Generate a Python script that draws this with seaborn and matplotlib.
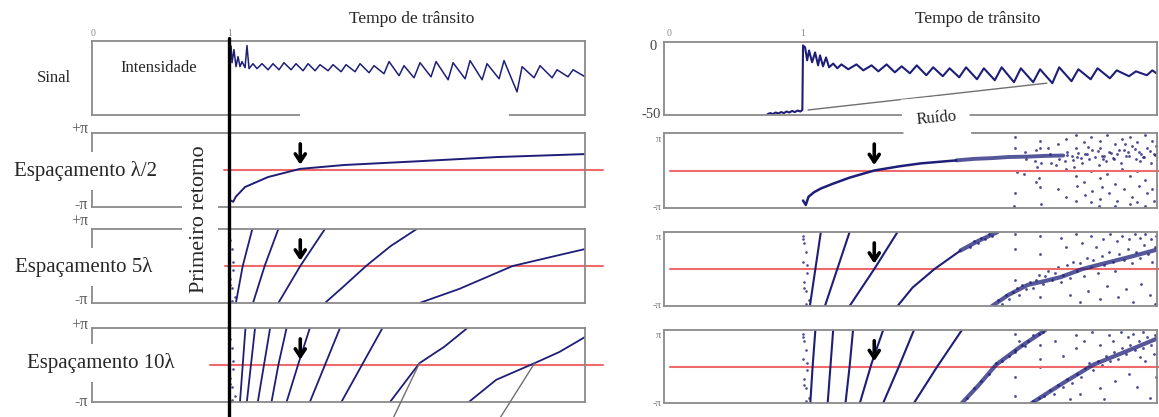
import numpy as np
import pandas as pd
import matplotlib
matplotlib.use("Agg")
import matplotlib.pyplot as plt
import seaborn as sns
from matplotlib.transforms import blended_transform_factory
from matplotlib.lines import Line2D

# ---------------- DATA (time in transit units, intensity in dB, phase in units of pi) -------------
# Left column - signal intensity
sigL_t = [1.000, 1.015, 1.022, 1.036, 1.051, 1.066, 1.080, 1.095, 1.117, 1.131, 1.146, 1.175, 1.204,
          1.241, 1.285, 1.321, 1.365, 1.401, 1.453, 1.489, 1.540, 1.577, 1.628, 1.664, 1.723, 1.759,
          1.818, 1.854, 1.920, 1.956, 2.022, 2.058, 2.131, 2.168, 2.241, 2.277, 2.350, 2.394, 2.474,
          2.511, 2.599, 2.635, 2.723, 2.759, 2.847, 2.883, 2.971, 3.007, 3.102, 3.139, 3.226, 3.270,
          3.358, 3.394, 3.474, 3.511, 3.599]
sigL_db = [1.4, -1.4, -12.9, -3.6, -15.7, -8.6, -15.7, -12.1, -16.4, -0.7, -17.1, -13.6, -17.1,
           -13.6, -17.9, -13.6, -17.9, -12.9, -17.9, -13.6, -18.6, -13.6, -18.6, -14.3, -18.6, -14.3,
           -19.3, -14.3, -19.3, -13.6, -20.0, -15.0, -20.7, -12.1, -22.1, -15.0, -23.6, -12.9, -22.9,
           -12.1, -25.0, -12.9, -24.3, -11.4, -25.0, -13.6, -24.3, -11.4, -33.6, -15.7, -23.6, -15.0,
           -23.6, -17.9, -22.9, -17.9, -22.9]

# Right column - signal intensity (noise floor, then echo train)
sigR_t = [0.74, 0.76, 0.78, 0.80, 0.82, 0.84, 0.86, 0.88, 0.90, 0.92, 0.94, 0.96, 0.98, 0.995,
          1.000, 1.015, 1.030, 1.044, 1.066, 1.088, 1.110, 1.124, 1.146, 1.168, 1.190, 1.220, 1.250,
          1.28, 1.33, 1.39, 1.44, 1.50, 1.55, 1.61, 1.67, 1.72, 1.78, 1.83, 1.90, 1.95, 2.02, 2.07,
          2.14, 2.19, 2.27, 2.32, 2.40, 2.45, 2.54, 2.59, 2.68, 2.73, 2.82, 2.87, 2.96, 3.01, 3.10,
          3.15, 3.24, 3.29, 3.38, 3.43, 3.51, 3.55, 3.58]
sigR_db = [-49.5, -48.6, -49.3, -48.2, -48.9, -47.9, -48.6, -47.5, -48.2, -47.1, -47.9, -46.8, -47.5, -46.4,
           0.0, -1.4, -10.7, -3.6, -12.1, -5.0, -14.3, -7.1, -15.0, -8.6, -15.7, -13.0, -16.4,
           -13.6, -17.1, -13.6, -17.9, -14.3, -18.6, -13.6, -19.3, -15.0, -20.0, -14.3, -21.4, -15.7,
           -22.1, -16.4, -22.9, -15.7, -24.3, -16.4, -25.0, -15.7, -26.4, -16.4, -26.4, -17.1, -27.1,
           -15.7, -25.7, -17.1, -24.3, -16.4, -23.6, -17.9, -22.1, -18.6, -21.4, -17.9, -20.0]

# Phase traces: list of (t, phase/pi, kind) segments per panel; kind 'b' = noisy band
phL_half = [([1.007, 1.030, 1.050, 1.117, 1.285, 1.518, 1.840, 2.400, 2.956, 3.600],
             [-0.81, -0.86, -0.72, -0.46, -0.19, 0.03, 0.135, 0.24, 0.35, 0.43], 'n')]
phL_5 = [([1.05, 1.10, 1.17], [-1, 0, 1], 'n'),
         ([1.175, 1.26, 1.36], [-1, 0, 1], 'n'),
         ([1.36, 1.52, 1.70], [-1, 0, 1], 'n'),
         ([1.70, 1.84, 2.00, 2.18, 2.37], [-1, -0.54, 0, 0.54, 1], 'n'),
         ([2.39, 2.68, 3.07, 3.38, 3.60], [-1, -0.62, 0, 0.27, 0.46], 'n')]
phL_10 = [([1.08, 1.10, 1.12], [-1, 0, 1], 'n'),
          ([1.13, 1.16, 1.19], [-1, 0, 1], 'n'),
          ([1.21, 1.255, 1.30], [-1, 0, 1], 'n'),
          ([1.31, 1.36, 1.42], [-1, 0, 1], 'n'),
          ([1.42, 1.51, 1.59], [-1, 0.08, 1], 'n'),
          ([1.59, 1.70, 1.81], [-1, 0, 1], 'n'),
          ([1.82, 1.97, 2.12], [-1, 0, 1], 'n'),
          ([2.175, 2.39, 2.57, 2.74], [-1, 0.05, 0.49, 1], 'n'),
          ([2.75, 2.95, 3.23, 3.41, 3.60], [-1, -0.4, 0.05, 0.35, 0.76], 'n')]

phR_half = [([1.00, 1.02, 1.04, 1.08, 1.13, 1.22, 1.34, 1.52, 1.70, 1.86, 2.12],
             [-0.80, -0.92, -0.70, -0.58, -0.48, -0.35, -0.19, 0.0, 0.11, 0.19, 0.27], 'n'),
            ([2.12, 2.25, 2.38, 2.50, 2.64, 2.77, 2.90], [0.27, 0.31, 0.33, 0.36, 0.37, 0.39, 0.40], 'b')]
phR_5 = [([1.05, 1.09, 1.13], [-1, 0, 1], 'n'),
         ([1.16, 1.25, 1.34], [-1, 0, 1], 'n'),
         ([1.34, 1.52, 1.69], [-1, 0, 1], 'n'),
         ([1.69, 1.80, 1.96, 2.15], [-1, -0.5, 0, 0.5], 'n'),
         ([2.15, 2.28, 2.42], [0.5, 0.76, 1], 'b'),
         ([2.38, 2.50, 2.64, 2.76, 2.88, 3.04, 3.24, 3.42, 3.60],
          [-1, -0.70, -0.43, -0.33, -0.22, 0.0, 0.19, 0.36, 0.54], 'b')]
phR_10 = [([1.053, 1.07, 1.09], [-1, 0, 1], 'n'),
          ([1.18, 1.20, 1.22], [-1, 0, 1], 'n'),
          ([1.31, 1.34, 1.365], [-1, 0, 1], 'n'),
          ([1.415, 1.50, 1.585], [-1, 0.08, 1], 'n'),
          ([1.585, 1.70, 1.81], [-1, 0, 1], 'n'),
          ([1.81, 1.98, 2.16], [-1, 0, 1], 'n'),
          ([2.16, 2.28, 2.41, 2.59, 2.77], [-1, -0.52, 0.05, 0.55, 1], 'b'),
          ([2.67, 2.90, 3.12, 3.35, 3.60], [-1, -0.45, 0.05, 0.4, 0.79], 'b')]

# Scattered noise samples (t, phase/pi)
first_ret_t = [1.00, 1.01, 1.02, 1.00, 1.03, 1.01, 1.02, 1.04, 1.00, 1.03, 1.01, 1.02]
first_ret_p = [0.9, 0.7, 0.45, 0.2, -0.1, -0.35, -0.6, -0.85, 0.8, 0.1, -0.5, -0.95]

noiseR_half_t = [2.55, 2.55, 2.56, 2.55, 2.54, 2.62, 2.63, 2.61, 2.70, 2.69, 2.71, 2.70, 2.73, 2.73, 2.74,
                 2.72, 2.73, 2.74, 2.80, 2.81, 2.79, 2.86, 2.87, 2.85, 2.86, 2.92, 2.93, 2.91, 2.92, 2.92,
                 2.99, 2.99, 3.00, 2.98, 2.99, 3.00, 2.99, 3.05, 3.06, 3.04, 3.05, 3.06, 3.10, 3.11, 3.09,
                 3.10, 3.11, 3.10, 3.17, 3.17, 3.18, 3.16, 3.17, 3.18, 3.17, 3.16, 3.22, 3.23, 3.21, 3.22,
                 3.23, 3.28, 3.29, 3.27, 3.28, 3.29, 3.28, 3.33, 3.34, 3.32, 3.33, 3.34, 3.39, 3.40, 3.38,
                 3.39, 3.40, 3.39, 3.44, 3.45, 3.43, 3.44, 3.45, 3.44, 3.50, 3.51, 3.49, 3.50, 3.51, 3.50,
                 3.55, 3.56, 3.54, 3.55, 3.56,
                 2.93, 2.96, 3.01, 3.03, 3.07, 3.13, 3.15, 3.20, 3.25, 3.26, 3.31, 3.36, 3.37, 3.42,
                 3.47, 3.48, 3.53, 3.57, 3.58, 2.97, 3.08, 3.19, 3.35, 3.46]
noiseR_half_p = [0.9, 0.6, -0.05, -0.6, -0.95, 0.5, 0.3, -0.1, 0.55, 0.25, 0.1, -0.3, 0.8, 0.6, 0.2,
                 -0.2, -0.45, -0.9, 0.45, 0.2, 0.6, 0.7, 0.3, 0.15, -0.5, 0.85, 0.5, 0.25, 0.05, -0.7,
                 0.95, 0.6, 0.35, 0.1, -0.15, -0.4, -0.8, 0.75, 0.45, 0.2, -0.3, -0.65, 0.9, 0.55, 0.3,
                 0.0, -0.55, -0.85, 0.8, 0.6, 0.4, 0.15, -0.2, -0.45, -0.75, -0.95, 0.95, 0.5, 0.25, -0.1,
                 -0.6, 0.7, 0.45, 0.3, -0.35, -0.8, -0.95, 0.85, 0.55, 0.2, 0.05, -0.5, 0.9, 0.65, 0.4,
                 -0.15, -0.7, -0.9, 0.75, 0.5, 0.3, 0.0, -0.4, -0.85, 0.95, 0.6, 0.35, -0.25, -0.6, -0.95,
                 0.8, 0.45, 0.2, -0.5, -0.8,
                 0.42, 0.38, 0.48, 0.33, 0.44, 0.36, 0.52, 0.40, 0.47, 0.34, 0.55, 0.39, 0.49, 0.58,
                 0.43, 0.37, 0.52, 0.41, 0.66, 0.28, 0.62, 0.30, 0.70, 0.25]

noiseR_5_t = [2.42, 2.45, 2.48, 2.50, 2.53, 2.56, 2.58, 2.60, 2.63, 2.66, 2.68, 2.70, 2.72, 2.75, 2.77,
              2.79, 2.82, 2.84, 2.86, 2.88, 2.90, 2.93, 2.95, 2.97, 3.00, 3.02, 3.05, 3.07, 3.10, 3.12,
              3.15, 3.18, 3.20, 3.23, 3.26, 3.28, 3.31, 3.34, 3.37, 3.40, 3.43, 3.46, 3.49, 3.52, 3.55,
              3.57,
              2.55, 2.55, 2.73, 2.73, 2.88, 2.92, 2.99, 3.04, 3.10, 3.14, 3.19, 3.24, 3.29, 3.33, 3.38,
              3.42, 3.46, 3.50, 3.54, 3.58,
              2.55, 2.73, 2.95, 3.02, 3.08, 3.17, 3.22, 3.30, 3.36, 3.41, 3.47, 3.53, 3.57,
              2.22, 2.25, 2.28, 2.30, 2.33, 2.36, 2.38]
noiseR_5_p = [-0.85, -0.95, -0.7, -0.8, -0.62, -0.5, -0.7, -0.42, -0.55, -0.35, -0.5, -0.3, -0.15, -0.4, -0.2,
              -0.05, -0.3, -0.1, 0.05, -0.35, -0.15, 0.1, -0.25, 0.2, -0.05, 0.15, -0.2, 0.3, 0.05, 0.25,
              -0.1, 0.35, 0.1, 0.45, 0.2, -0.05, 0.4, 0.25, 0.55, 0.15, 0.45, 0.3, 0.65, 0.4, 0.2,
              0.6,
              0.95, 0.55, 0.9, 0.4, 0.85, 0.6, 0.95, 0.7, 0.9, 0.6, 0.8, 0.95, 0.75, 0.9, 0.8,
              0.95, 0.85, 0.95, 0.8, 0.9,
              -0.3, -0.75, -0.7, -0.9, -0.6, -0.8, -0.45, -0.75, -0.55, -0.9, -0.4, -0.7, -0.95,
              0.6, 0.75, 0.7, 0.85, 0.8, 0.95, 0.88]

noiseR_10_t = [2.20, 2.25, 2.30, 2.36, 2.41, 2.45, 2.50, 2.55, 2.60, 2.64, 2.68, 2.72, 2.75, 2.58, 2.62,
               2.68, 2.72, 2.76, 2.80, 2.83, 2.86, 2.90, 2.93, 2.96, 3.00, 3.03, 3.06, 3.09, 3.12, 3.15,
               3.18, 3.21, 3.24, 3.27, 3.30, 3.33, 3.36, 3.39, 3.42, 3.45, 3.48, 3.51, 3.54, 3.57,
               2.55, 2.55, 2.55, 2.55, 2.73, 2.73, 2.73, 2.84, 2.90, 2.99, 2.99, 3.05, 3.11, 3.17, 3.17,
               3.23, 3.28, 3.32, 3.38, 3.41, 3.44, 3.48, 3.50, 3.53, 3.56, 3.58, 3.46, 3.37, 3.26, 3.02,
               2.95, 3.20]
noiseR_10_p = [-0.85, -0.6, -0.4, -0.2, 0.1, 0.15, 0.3, 0.45, 0.6, 0.7, 0.85, 0.9, 0.95, 0.7, 0.55,
               -0.95, -0.85, -0.8, -0.65, -0.75, -0.5, -0.55, -0.35, -0.45, -0.2, -0.3, -0.05, 0.1, -0.1, 0.15,
               0.05, 0.3, 0.15, 0.4, 0.2, 0.5, 0.35, 0.6, 0.45, 0.7, 0.5, 0.8, 0.6, 0.85,
               0.9, 0.4, -0.3, -0.8, 0.6, 0.2, 0.0, 0.7, 0.3, 0.85, 0.5, 0.7, 0.95, 0.6, -0.6,
               0.85, -0.4, 0.95, -0.2, 0.9, -0.55, 0.95, 0.15, -0.85, 0.35, -0.3, 0.25, 0.8, 0.7, -0.75,
               -0.9, -0.9]

# Callout pointers: "Ruido" (t, dB) and the two crossings in the 10-lambda panel (t, phase/pi)
ruido_t = [1.036, 2.78]
ruido_db = [-46.4, -27.1]
callout_t = [(2.20, 2.39), (2.98, 3.23)]
callout_p = [(-1.42, 0.05), (-1.42, 0.05)]
arrow_t = 1.52
first_return_t = 1.0

# ---------------- STYLE -------------
sns.set_theme(style="white")
plt.rcParams['font.family'] = ['Liberation Serif', 'DejaVu Serif']

W, H = 1159, 417
NAVY = '#1e1e78'
RED = '#ef6b6b'
SPINE = '#8a8a8a'
GREY = '#707070'
fig = plt.figure(figsize=(W / 100, H / 100), dpi=100)


def add_ax(x0, y0, x1, y1):
    ax = fig.add_axes([x0 / W, 1 - y1 / H, (x1 - x0) / W, (y1 - y0) / H])
    for s in ax.spines.values():
        s.set_visible(True)
        s.set_color(SPINE)
        s.set_linewidth(1.3)
    ax.set_facecolor('none')
    return ax


def finish(ax, xlim, ylim):
    ax.set_xlim(*xlim)
    ax.set_ylim(*ylim)
    ax.set_xticks([])
    ax.set_yticks([])
    ax.set_xlabel('')
    ax.set_ylabel('')


def draw_phase(ax, segs, lw=1.3, band_lw=2.8):
    for kind, width, alpha in (('n', lw, 1.0), ('b', band_lw, 0.75)):
        rows = []
        for i, (ts, ps, k) in enumerate(segs):
            if k != kind:
                continue
            for t, p in zip(ts, ps):
                rows.append((i, t, p))
        if not rows:
            continue
        df = pd.DataFrame(rows, columns=['seg', 't', 'p'])
        sns.lineplot(data=df, x='t', y='p', units='seg', estimator=None, sort=False,
                     color=NAVY, lw=width, ax=ax, alpha=alpha)


def dots(ax, ts, ps, s=4):
    sns.scatterplot(x=ts, y=ps, s=s, color=NAVY, edgecolor=None, linewidth=0, alpha=0.8, ax=ax)


XL = (0.0, 3.598)
XR = (-0.015, 3.584)
YS = (-50, 2.5)
YP = (-1, 1)
ARROW = dict(arrowstyle='->,head_length=0.45,head_width=0.3', color='black', lw=2.6)

# ---------------- LEFT COLUMN -------------
sL = add_ax(92, 41, 585, 115)
sns.lineplot(x=sigL_t, y=sigL_db, sort=False, color=NAVY, lw=1.1, ax=sL)
finish(sL, XL, YS)
sL.plot([1.53, 3.03], [YS[0], YS[0]], color='white', lw=3, clip_on=False, zorder=6)

pL = [add_ax(92, 133, 585, 207), add_ax(92, 229, 585, 303), add_ax(92, 328, 585, 402)]
draw_phase(pL[0], phL_half, lw=1.4)
draw_phase(pL[1], phL_5)
draw_phase(pL[2], phL_10)
dots(pL[1], first_ret_t, first_ret_p, s=3.5)
dots(pL[2], first_ret_t, first_ret_p, s=3.5)
red_start_L = [0.96, 0.97, 0.86]
for ax, r0 in zip(pL, red_start_L):
    finish(ax, XL, YP)
    ax.plot([r0, 3.73], [0, 0], color=RED, lw=1.5, clip_on=False, zorder=1)
    ax.annotate('', xy=(arrow_t, 0.07), xytext=(arrow_t, 0.78), arrowprops=ARROW)
for ct, cp in zip(callout_t, callout_p):
    pL[2].plot(ct, cp, color=GREY, lw=1.0, clip_on=False, zorder=3)

# ---------------- RIGHT COLUMN -------------
sR = add_ax(664, 42, 1157, 115)
sns.lineplot(x=sigR_t, y=sigR_db, sort=False, color=NAVY, lw=1.5, ax=sR)
sns.lineplot(x=ruido_t, y=ruido_db, sort=False, color=GREY, lw=1.0, ax=sR)
finish(sR, XR, YS)

pR = [add_ax(664, 133, 1157, 208), add_ax(664, 232, 1157, 306), add_ax(664, 330, 1157, 403)]
draw_phase(pR[0], phR_half, lw=1.8, band_lw=2.8)
draw_phase(pR[1], phR_5, lw=1.5, band_lw=3.0)
draw_phase(pR[2], phR_10, lw=1.5, band_lw=3.0)
dots(pR[0], noiseR_half_t, noiseR_half_p)
dots(pR[1], noiseR_5_t, noiseR_5_p)
dots(pR[2], noiseR_10_t, noiseR_10_p)
dots(pR[1], first_ret_t, first_ret_p, s=3.5)
dots(pR[2], first_ret_t, first_ret_p, s=3.5)
for ax in pR:
    finish(ax, XR, YP)
    ax.plot([0.03, 3.62], [0, 0], color=RED, lw=1.5, clip_on=False, zorder=1)
    ax.annotate('', xy=(arrow_t, 0.07), xytext=(arrow_t, 0.78), arrowprops=ARROW)

# first-return marker line
bt = blended_transform_factory(sL.transData, fig.transFigure)
fig.add_artist(Line2D([first_return_t, first_return_t], [1 - 38 / H, 0], transform=bt,
                      color='black', lw=2.4, zorder=5))

# ---------------- TEXT -------------
def ftext(x, y, s, **kw):
    fig.text(x / W, 1 - y / H, s, **kw)

ftext(412, 19, 'Tempo de trânsito', fontsize=12.5, ha='center', va='center')
ftext(978, 19, 'Tempo de trânsito', fontsize=12.5, ha='center', va='center')
for x, lab in [(93, '0'), (230, '1'), (669, '0'), (803, '1')]:
    ftext(x, 33, lab, fontsize=7, color='#888888', ha='center', va='center')
ftext(54, 78, 'Sinal', fontsize=12, ha='center', va='center')
ftext(159, 68, 'Intensidade', fontsize=12, ha='center', va='center')

for yp, ym in [(129, 205), (221, 300), (325, 402)]:
    ftext(88, yp, '+π', fontsize=11.5, color='#555555', ha='right', va='center')
    ftext(88, ym, '-π', fontsize=11.5, color='#555555', ha='right', va='center')
for yp, ym in [(140, 208), (238, 305), (336, 403)]:
    ftext(661, yp, 'π', fontsize=7.5, color='#777777', ha='right', va='center')
    ftext(661, ym, '-π', fontsize=7.5, color='#777777', ha='right', va='center')
ftext(657, 46, '0', fontsize=10.5, color='#444444', ha='right', va='center')
ftext(661, 115, '-50', fontsize=10.5, color='#444444', ha='right', va='center')

wb = dict(boxstyle='square,pad=0.45', fc='white', ec='none')
ftext(86, 171, 'Espaçamento λ/2', fontsize=15, ha='center', va='center', bbox=wb, zorder=7)
ftext(84, 267, 'Espaçamento 5λ', fontsize=15, ha='center', va='center', bbox=wb, zorder=7)
ftext(101, 363, 'Espaçamento 10λ', fontsize=15, ha='center', va='center', bbox=wb, zorder=7)
ftext(200, 219, 'Primeiro retorno', fontsize=16, rotation=90, ha='center', va='center',
      bbox=dict(boxstyle='square,pad=0.4', fc='white', ec='none'), zorder=7)
ftext(936, 118, 'Ruído', fontsize=12, rotation=5, ha='center', va='center',
      bbox=dict(boxstyle='square,pad=0.8', fc='white', ec='none'), zorder=7)

fig.savefig('out.png', dpi=100)
